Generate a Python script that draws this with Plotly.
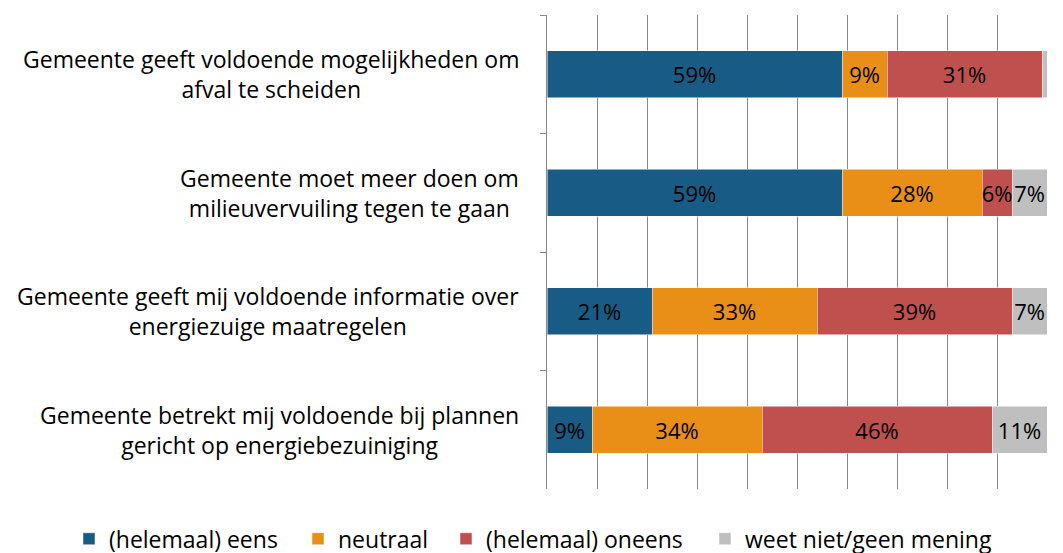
import plotly.graph_objects as go

categories = [
    "Gemeente geeft voldoende mogelijkheden om<br>afval te scheiden",
    "Gemeente moet meer doen om<br>milieuvervuiling tegen te gaan",
    "Gemeente geeft mij voldoende informatie over<br>energiezuige maatregelen",
    "Gemeente betrekt mij voldoende bij plannen<br>gericht op energiebezuiniging",
]
series = ["(helemaal) eens", "neutraal", "(helemaal) oneens", "weet niet/geen mening"]
eens = [59, 59, 21, 9]
neutraal = [9, 28, 33, 34]
oneens = [31, 6, 39, 46]
weet_niet = [1, 7, 7, 11]
colors = ["#185B84", "#E98E17", "#C0504D", "#BFBFBF"]

FONT = "Open Sans"

# each legend entry gets its own legend box so the spacing matches
legend_ids = ["legend2", "legend3", "legend4", "legend5"]
legend_x = [-0.956, -0.498, -0.202, 0.316]

fig = go.Figure()
for name, vals, col, lg in zip(series, [eens, neutraal, oneens, weet_niet], colors, legend_ids):
    labels = [f"{v}%" if v >= 5 else "" for v in vals]
    fig.add_trace(go.Bar(
        y=categories, x=vals, name=name, orientation="h", legend=lg,
        marker=dict(color=col, line=dict(color="white", width=0.5)),
        text=labels, textposition="inside", insidetextanchor="middle",
        textangle=0, constraintext="none",
        textfont=dict(family=FONT, size=22, color="black"),
    ))

for c in categories:
    fig.add_annotation(
        text=c, xref="paper", yref="y", x=-0.052, y=c,
        xanchor="right", yanchor="middle", align="center", showarrow=False,
        font=dict(family=FONT, size=23, color="black"),
    )

fig.update_layout(
    barmode="stack", bargap=0.6,
    width=1063, height=553,
    margin=dict(l=547, r=16, t=15, b=64, autoexpand=False),
    plot_bgcolor="white", paper_bgcolor="white",
    font=dict(family=FONT, size=23, color="black"),
    xaxis=dict(range=[0, 100], dtick=10, showgrid=True, gridcolor="#888888",
               gridwidth=1.3, showticklabels=False, zeroline=False, showline=False),
    yaxis=dict(autorange="reversed", showticklabels=False, showline=True,
               linecolor="#888888", linewidth=1.3, ticks="outside",
               tickson="boundaries", ticklen=6, tickcolor="#888888"),
)
for lg, lx in zip(legend_ids, legend_x):
    fig.update_layout({lg: dict(orientation="h", x=lx, xanchor="left",
                                y=-0.105, yanchor="middle",
                                font=dict(family=FONT, size=23))})

fig.write_html("out.html", config={"displayModeBar": False},
               post_script="document.body.style.margin='0';")
